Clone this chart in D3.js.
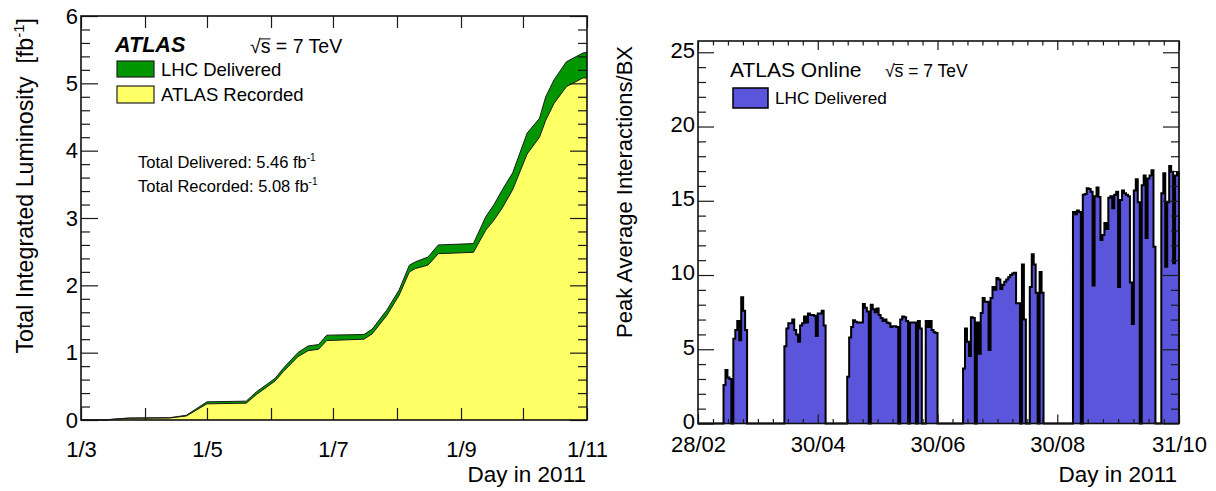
<!DOCTYPE html>
<html>
<head>
<meta charset="utf-8">
<script src="https://cdn.jsdelivr.net/npm/d3@7"></script>
<style>
  body { margin: 0; background: #fff; }
  svg text { font-family: "Liberation Sans", Arial, Helvetica, sans-serif; fill: #000; }
</style>
</head>
<body>
<div class="chart"></div>
<script>
var parseDay = d3.utcParse("%Y-%m-%d");

// cumulative luminosity in 2011 (fb^-1)
var lumiDates = ["2011-03-01", "2011-03-13", "2011-03-16", "2011-03-24", "2011-04-13", "2011-04-21",
  "2011-04-26", "2011-05-01", "2011-05-20", "2011-05-25", "2011-05-30", "2011-06-03", "2011-06-07",
  "2011-06-14", "2011-06-19", "2011-06-24", "2011-06-28", "2011-07-16", "2011-07-20", "2011-07-27",
  "2011-08-02", "2011-08-07", "2011-08-10", "2011-08-16", "2011-08-21", "2011-09-07", "2011-09-13",
  "2011-09-17", "2011-09-21", "2011-09-26", "2011-10-03", "2011-10-09", "2011-10-12", "2011-10-16",
  "2011-10-22", "2011-10-30", "2011-11-01"];
var lumiDelivered = [0, 0, 0.01, 0.03, 0.035, 0.07, 0.17, 0.27, 0.28, 0.42, 0.53, 0.62, 0.77,
  1.0, 1.10, 1.12, 1.26, 1.27, 1.35, 1.63, 1.93, 2.30, 2.35, 2.42, 2.60, 2.62, 3.02,
  3.20, 3.42, 3.67, 4.26, 4.48, 4.80, 5.05, 5.32, 5.45, 5.46];
var lumiRecorded = [0, 0, 0.01, 0.025, 0.03, 0.06, 0.15, 0.24, 0.25, 0.38, 0.49, 0.58, 0.72,
  0.94, 1.03, 1.05, 1.18, 1.20, 1.28, 1.55, 1.85, 2.20, 2.25, 2.30, 2.47, 2.49, 2.82,
  2.97, 3.15, 3.42, 3.95, 4.20, 4.45, 4.70, 4.95, 5.08, 5.08];
var lumiTotals = ["5.46", "5.08"];
var lumiLabelDates = ["2011-03-01", "2011-05-01", "2011-07-01", "2011-09-01", "2011-11-01"];
var lumiTickLabels = ["1/3", "1/5", "1/7", "1/9", "1/11"];

// peak average interactions per bunch crossing, one value per day from 28/02
var muFirstDay = "2011-02-28";
var muPeak = [
  0, 0, 0, 0, 0, 0, 0, 0, 0, 0, 0, 0, 0,
  2.6, 3.6, 3.1, 3.0, 0, 5.7, 6.3, 6.9, 5.6, 8.5, 7.6, 6.3,
  0, 0, 0, 0, 0, 0, 0, 0, 0, 0, 0, 0, 0, 0, 0, 0, 0, 0, 0,
  5.2, 6.4, 6.75, 6.75, 7.0, 6.3, 6.0, 5.5, 6.6, 6.75, 7.2, 6.8, 7.4, 7.3, 7.3, 7.25, 5.9, 7.4, 7.4, 7.6, 6.6,
  0, 0, 0, 0, 0, 0, 0, 0, 0, 0, 0,
  3.15, 5.8, 6.5, 6.95, 6.85, 6.8, 6.8, 6.8, 8.05, 7.8, 7.55, 0, 8.0, 7.7, 7.5, 7.75, 7.3, 7.1, 6.9, 7.0,
  6.8, 6.75, 6.5, 6.55, 6.55, 6.5, 0, 7.0, 7.2, 7.15, 6.9, 0, 6.8, 6.8, 6.8, 0, 6.9, 6.4, 0, 0,
  6.9, 6.5, 6.9, 6.3, 6.15, 6.1,
  0, 0, 0, 0, 0, 0, 0, 0, 0, 0, 0, 0, 0,
  3.7, 6.4, 5.5, 4.55, 7.15, 7.1, 0, 6.8, 4.7, 7.45, 8.45, 8.2, 8.2, 4.95, 8.45, 9.2, 9.0, 9.8, 9.7, 9.05,
  9.35, 9.55, 9.7, 9.85, 10.0, 10.1, 10.15, 8.1, 8.1, 0, 10.7, 7.0, 0, 0, 9.2, 11.4, 10.7, 8.8, 0, 10.2, 8.8,
  0, 0, 0, 0, 0, 0, 0, 0, 0, 0, 0, 0, 0, 0, 0,
  14.25, 14.1, 14.35, 14.25, 0, 15.4, 15.45, 15.85, 15.8, 15.6, 9.3, 15.3, 15.9, 15.25, 12.35, 12.7, 13.5, 13.1,
  15.2, 15.3, 14.5, 15.4, 15.6, 9.2, 15.05, 15.7, 15.5, 15.4, 15.3, 9.5, 6.7, 15.7, 16.45, 14.9, 0, 16.05,
  16.7, 12.5, 16.5, 16.7, 17.05, 11.9, 0, 0, 0, 15.5, 16.85, 10.55, 14.9, 17.35, 16.95, 10.8, 16.7, 16.9
];
var muTickDates = ["2011-02-28", "2011-04-30", "2011-06-30", "2011-08-30", "2011-10-31"];
var muTickLabels = ["28/02", "30/04", "30/06", "30/08", "31/10"];

var svg = d3.select(".chart")
  .append("svg")
  .attr("width", 1216)
  .attr("height", 491);

// draws a set of bare tick marks with a d3 axis
function tickMarks(axisFn, scale, values, size, translate) {
  var g = svg.append("g")
    .attr("transform", translate)
    .call(axisFn(scale).tickValues(values).tickSize(size).tickFormat(""));
  g.select(".domain").remove();
  g.selectAll("line").attr("stroke", "#1a1a1a").attr("stroke-width", 1.2);
  return g;
}

function tickLabels(axisFn, scale, values, labels, padding, translate) {
  var g = svg.append("g")
    .attr("transform", translate)
    .call(axisFn(scale).tickValues(values).tickSize(0).tickPadding(padding)
      .tickFormat(function(d, i) { return labels[i]; }));
  g.select(".domain").remove();
  g.attr("font-size", 22).attr("font-family", null);
  return g;
}

// sqrt(s) = 7 TeV, with the bar drawn over the s
function sqrtS(x, y, size) {
  var t = svg.append("text")
    .attr("x", x).attr("y", y)
    .attr("font-size", size)
    .text("\u221As = 7 TeV");
  var box = t.node().getExtentOfChar(1);
  var root = t.node().getExtentOfChar(0);
  svg.append("line")
    .attr("x1", box.x - 0.5).attr("x2", box.x + box.width)
    .attr("y1", root.y + size * 0.2).attr("y2", root.y + size * 0.2)
    .attr("stroke", "#000").attr("stroke-width", 1);
}

/* ---------- integrated luminosity ---------- */

var L = { left: 81, right: 587, top: 16, bottom: 420 };

var xLumi = d3.scaleUtc()
  .domain([parseDay("2011-03-01"), parseDay("2011-11-01")])
  .range([L.left, L.right]);
var yLumi = d3.scaleLinear()
  .domain([0, 6])
  .range([L.bottom, L.top]);

var lumiData = lumiDates.map(function(d, i) {
  return { date: parseDay(d), del: lumiDelivered[i], rec: lumiRecorded[i] };
});

svg.append("path")
  .datum(lumiData)
  .attr("fill", "#009600")
  .attr("d", d3.area()
    .x(function(d) { return xLumi(d.date); })
    .y0(yLumi(0))
    .y1(function(d) { return yLumi(d.del); }));

svg.append("path")
  .datum(lumiData)
  .attr("fill", "#ffff66")
  .attr("d", d3.area()
    .x(function(d) { return xLumi(d.date); })
    .y0(yLumi(0))
    .y1(function(d) { return yLumi(d.rec); }));

["del", "rec"].forEach(function(key) {
  svg.append("path")
    .datum(lumiData)
    .attr("fill", "none")
    .attr("stroke", "#1a1a1a")
    .attr("stroke-width", 1)
    .attr("d", d3.line()
      .x(function(d) { return xLumi(d.date); })
      .y(function(d) { return yLumi(d[key]); }));
});

var lumiMonths = d3.utcMonth.range(parseDay("2011-03-01"), parseDay("2011-11-02"));
var lumiMajor = d3.range(0, 7, 1);
var lumiMinor = d3.range(0, 30).map(function(i) { return i * 0.2; })
  .filter(function(v) { return Math.abs(v - Math.round(v)) > 0.01; });

tickMarks(d3.axisBottom, xLumi, lumiMonths, -12, "translate(0," + L.bottom + ")");
tickMarks(d3.axisTop, xLumi, lumiMonths, -12, "translate(0," + L.top + ")");
tickMarks(d3.axisLeft, yLumi, lumiMajor, -17, "translate(" + L.left + ",0)");
tickMarks(d3.axisLeft, yLumi, lumiMinor, -9, "translate(" + L.left + ",0)");
tickMarks(d3.axisRight, yLumi, lumiMajor, -17, "translate(" + L.right + ",0)");
tickMarks(d3.axisRight, yLumi, lumiMinor, -9, "translate(" + L.right + ",0)");

svg.append("rect")
  .attr("x", L.left).attr("y", L.top)
  .attr("width", L.right - L.left).attr("height", L.bottom - L.top)
  .attr("fill", "none").attr("stroke", "#111").attr("stroke-width", 1.6);

tickLabels(d3.axisBottom, xLumi, lumiLabelDates.map(parseDay), lumiTickLabels, 21,
  "translate(0," + L.bottom + ")");
tickLabels(d3.axisLeft, yLumi, lumiMajor, lumiMajor.map(String), 3,
  "translate(" + L.left + ",0)");

var lumiTitle = svg.append("text")
  .attr("transform", "translate(33,18) rotate(-90)")
  .attr("text-anchor", "end")
  .attr("font-size", 23.2)
  .text("Total Integrated Luminosity\u00a0 [fb");
lumiTitle.append("tspan").attr("dy", -9).attr("font-size", 15).text("-1");
lumiTitle.append("tspan").attr("dy", 9).text("]");

svg.append("text")
  .attr("x", L.right - 1).attr("y", 482)
  .attr("text-anchor", "end")
  .attr("font-size", 22.5)
  .text("Day in 2011");

svg.append("text")
  .attr("x", 115).attr("y", 52)
  .attr("font-size", 21.6)
  .attr("font-weight", "bold")
  .attr("font-style", "italic")
  .text("ATLAS");
sqrtS(250, 53, 19.5);

var lumiLegend = [
  { label: "LHC Delivered", fill: "#009600", y: 61, h: 16, base: 76 },
  { label: "ATLAS Recorded", fill: "#ffff66", y: 86, h: 17, base: 101 }
];
lumiLegend.forEach(function(d) {
  svg.append("rect")
    .attr("x", 117).attr("y", d.y).attr("width", 37).attr("height", d.h)
    .attr("fill", d.fill).attr("stroke", "#222").attr("stroke-width", 1.2);
  svg.append("text")
    .attr("x", 161).attr("y", d.base)
    .attr("font-size", 18.5)
    .text(d.label);
});

["Total Delivered: ", "Total Recorded: "].forEach(function(lab, i) {
  var t = svg.append("text")
    .attr("x", 138).attr("y", 168 + i * 24)
    .attr("font-size", 16.5)
    .text(lab + lumiTotals[i] + " fb");
  t.append("tspan").attr("dy", -7).attr("font-size", 10).text("-1");
});

/* ---------- peak interactions per crossing ---------- */

var R = { left: 698, right: 1179, top: 41, bottom: 423.5 };

var muStart = parseDay(muFirstDay);
var xMu = d3.scaleUtc()
  .domain([muStart, parseDay("2011-10-31")])
  .range([R.left, R.right]);
var yMu = d3.scaleLinear()
  .domain([0, 25.76])
  .range([R.bottom, R.top]);

var muData = muPeak.map(function(v, i) {
  return { date: d3.utcDay.offset(muStart, i), v: v };
});
var muEnd = d3.utcDay.offset(muStart, muPeak.length);
muData.push({ date: muEnd, v: muPeak[muPeak.length - 1] });

svg.append("path")
  .datum(muData)
  .attr("fill", "#5a55da")
  .attr("d", d3.area()
    .curve(d3.curveStepAfter)
    .x(function(d) { return xMu(d.date); })
    .y0(yMu(0))
    .y1(function(d) { return yMu(d.v); }));

svg.append("path")
  .datum(muData.concat([{ date: muEnd, v: 0 }]))
  .attr("fill", "none")
  .attr("stroke", "#000")
  .attr("stroke-width", 2)
  .attr("stroke-linejoin", "miter")
  .attr("d", d3.line()
    .curve(d3.curveStepAfter)
    .x(function(d) { return xMu(d.date); })
    .y(function(d) { return yMu(d.v); }));

var muMajorDates = muTickDates.map(parseDay);
var muMinorDates = [];
for (var k = 0; k < muMajorDates.length - 1; k++) {
  var a = +muMajorDates[k], b = +muMajorDates[k + 1];
  for (var j = 1; j < 8; j++) muMinorDates.push(new Date(a + (b - a) * j / 8));
}
var muMajor = d3.range(0, 26, 5);
var muMinor = d3.range(0, 26).filter(function(v) { return v % 5 !== 0; });

tickMarks(d3.axisBottom, xMu, muMajorDates, -9, "translate(0," + R.bottom + ")");
tickMarks(d3.axisBottom, xMu, muMinorDates, -4.5, "translate(0," + R.bottom + ")");
tickMarks(d3.axisTop, xMu, muMajorDates, -9, "translate(0," + R.top + ")");
tickMarks(d3.axisTop, xMu, muMinorDates, -4.5, "translate(0," + R.top + ")");
tickMarks(d3.axisLeft, yMu, muMajor, -16, "translate(" + R.left + ",0)");
tickMarks(d3.axisLeft, yMu, muMinor, -8, "translate(" + R.left + ",0)");
tickMarks(d3.axisRight, yMu, muMajor, -16, "translate(" + R.right + ",0)");
tickMarks(d3.axisRight, yMu, muMinor, -8, "translate(" + R.right + ",0)");

svg.append("rect")
  .attr("x", R.left).attr("y", R.top)
  .attr("width", R.right - R.left).attr("height", R.bottom - R.top)
  .attr("fill", "none").attr("stroke", "#111").attr("stroke-width", 1.6);

tickLabels(d3.axisBottom, xMu, muMajorDates, muTickLabels, 13, "translate(0," + R.bottom + ")");
var muYLabels = tickLabels(d3.axisLeft, yMu, muMajor, muMajor.map(String), 3, "translate(" + R.left + ",0)");
muYLabels.selectAll("text").attr("dy", "0.22em");

svg.append("text")
  .attr("transform", "translate(632,46) rotate(-90)")
  .attr("text-anchor", "end")
  .attr("font-size", 22)
  .text("Peak Average Interactions/BX");

svg.append("text")
  .attr("x", R.right - 2).attr("y", 482)
  .attr("text-anchor", "end")
  .attr("font-size", 22.5)
  .text("Day in 2011");

svg.append("text")
  .attr("x", 730).attr("y", 77)
  .attr("font-size", 21)
  .text("ATLAS Online");
sqrtS(885, 77, 17.5);

svg.append("rect")
  .attr("x", 733).attr("y", 88).attr("width", 35).attr("height", 20)
  .attr("fill", "#5a55da").attr("stroke", "#000").attr("stroke-width", 1.5);
svg.append("text")
  .attr("x", 775).attr("y", 104)
  .attr("font-size", 17.2)
  .text("LHC Delivered");
</script>
</body>
</html>
